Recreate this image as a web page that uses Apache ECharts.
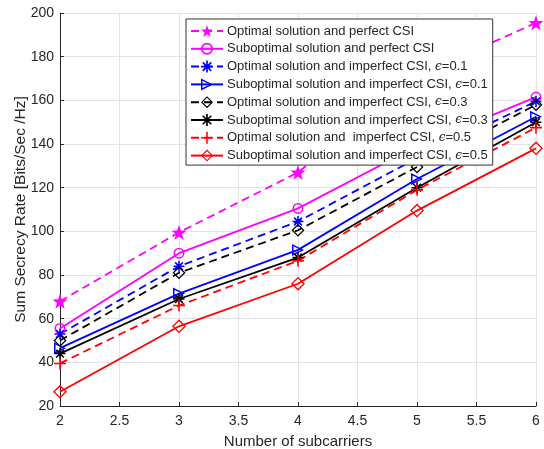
<!DOCTYPE html>
<html>
<head>
<meta charset="utf-8">
<script src="https://cdn.jsdelivr.net/npm/echarts@6/dist/echarts.min.js"></script>
<style>
  html, body { margin: 0; padding: 0; background: #fff; }
  #chart { width: 544px; height: 449px; }
</style>
</head>
<body>
<div id="chart"></div>
<script>
// Number of subcarriers on the x axis
const subcarriers = [2, 3, 4, 5, 6];

// Sum secrecy rate [Bits/Sec/Hz] per scheme
const optPerfect   = [68,   99.5, 127,   171,   195.5];
const subPerfect   = [55.5, 90,   110.5, 139,   161.5];
const optImp01     = [53,   84,   104.5, 133.5, 159.5];
const subImp01     = [46.5, 71.5, 91.5,  124,   152.5];
const optImp03     = [50,   81,   100.5, 129.5, 158];
const subImp03     = [44,   69,   88,    120,   150];
const optImp05     = [39.5, 66,   86.5,  119,   147.5];
const subImp05     = [26.5, 56.5, 76,    109.5, 138];

const xTicks = [2, 2.5, 3, 3.5, 4, 4.5, 5, 5.5, 6];
const yTicks = [20, 40, 60, 80, 100, 120, 140, 160, 180, 200];

const seriesNames = [
  'Optimal solution and perfect CSI',
  'Suboptimal solution and perfect CSI',
  'Optimal solution and imperfect CSI, {e|ϵ}=0.1',
  'Suboptimal solution and imperfect CSI, {e|ϵ}=0.1',
  'Optimal solution and imperfect CSI, {e|ϵ}=0.3',
  'Suboptimal solution and imperfect CSI, {e|ϵ}=0.3',
  'Optimal solution and  imperfect CSI, {e|ϵ}=0.5',
  'Suboptimal solution and imperfect CSI, {e|ϵ}=0.5'
];

// Marker shapes
const STAR = 'path://M0,-10 L2.35,-3.24 L9.51,-3.09 L3.8,1.24 L5.88,8.09 L0,4 L-5.88,8.09 L-3.8,1.24 L-9.51,-3.09 L-2.35,-3.24 Z';
const PLUS = 'path://M-1.3,-10 L1.3,-10 L1.3,10 L-1.3,10 Z M-10,-1.3 L10,-1.3 L10,1.3 L-10,1.3 Z';
const ASTER = 'path://M-1.4,-10 L1.4,-10 L1.4,10 L-1.4,10 Z M-10,-1.4 L10,-1.4 L10,1.4 L-10,1.4 Z ' +
  'M-6.05,-8.05 L8.05,6.05 L6.05,8.05 L-8.05,-6.05 Z M6.05,-8.05 L8.05,-6.05 L-6.05,8.05 L-8.05,6.05 Z';
// outline shapes: outer and inner contours wound in opposite directions
const TRI_RIGHT = 'path://M-9,-10 L10,0 L-9,10 Z M-6.6,-5.9 L-6.6,5.9 L5.2,0 Z';
const RING = 'path://M0,-10 A10,10 0 1,1 0,10 A10,10 0 1,1 0,-10 Z M0,-7.2 A7.2,7.2 0 1,0 0,7.2 A7.2,7.2 0 1,0 0,-7.2 Z';
const DIAMOND = 'path://M0,-10 L10,0 L0,10 L-10,0 Z M0,-7.3 L-7.3,0 L0,7.3 L7.3,0 Z';

const MAGENTA = '#ff00ff', BLUE = '#0000ff', BLACK = '#000000', RED = '#ff0000';
const DASH = [8, 5];

function mk(name, data, color, dashed, symbol, size) {
  return {
    name: name,
    type: 'line',
    data: subcarriers.map((x, i) => [x, data[i]]),
    symbol: symbol,
    symbolSize: size,
    showAllSymbol: true,
    lineStyle: { color: color, width: 1.8, type: dashed ? DASH : 'solid' },
    itemStyle: { color: color, borderWidth: 0 },
    emphasis: { disabled: true },
    animation: false
  };
}

const series = [
  mk(seriesNames[0], optPerfect, MAGENTA, true,  STAR,      15),
  mk(seriesNames[1], subPerfect, MAGENTA, false, RING,      11),
  mk(seriesNames[2], optImp01,   BLUE,    true,  ASTER,     11),
  mk(seriesNames[3], subImp01,   BLUE,    false, TRI_RIGHT, 12),
  mk(seriesNames[4], optImp03,   BLACK,   true,  DIAMOND,   13),
  mk(seriesNames[5], subImp03,   BLACK,   false, ASTER,     11),
  mk(seriesNames[6], optImp05,   RED,     true,  PLUS,      12),
  mk(seriesNames[7], subImp05,   RED,     false, DIAMOND,   14)
];

const chart = echarts.init(document.getElementById('chart'), null, { renderer: 'canvas' });
const FONT = 'Liberation Sans, Arial, Helvetica, sans-serif';
const TXT = '#262626';

chart.setOption({
  animation: false,
  backgroundColor: '#fff',
  textStyle: { fontFamily: FONT },
  grid: { left: 60, right: 8, top: 13, bottom: 43, containLabel: false, outerBoundsMode: 'none' },
  xAxis: {
    type: 'value',
    min: xTicks[0],
    max: xTicks[xTicks.length - 1],
    interval: 0.5,
    name: 'Number of subcarriers',
    nameLocation: 'middle',
    nameGap: 28,
    nameMoveOverlap: false,
    nameTextStyle: { color: TXT, fontSize: 15, fontFamily: FONT },
    axisLine: { show: true, lineStyle: { color: TXT, width: 1 } },
    axisTick: { show: true, inside: true, length: 4, lineStyle: { color: TXT } },
    axisLabel: { color: TXT, fontSize: 14, margin: 8, fontFamily: FONT },
    splitLine: { show: true, lineStyle: { color: '#e3e3e3', width: 1 } }
  },
  yAxis: {
    type: 'value',
    min: yTicks[0],
    max: yTicks[yTicks.length - 1],
    interval: 20,
    name: 'Sum Secrecy Rate [Bits/Sec /Hz]',
    nameLocation: 'middle',
    nameGap: 31,
    nameMoveOverlap: false,
    nameTextStyle: { color: TXT, fontSize: 15.5, fontFamily: FONT },
    axisLine: { show: true, lineStyle: { color: TXT, width: 1 } },
    axisTick: { show: true, inside: true, length: 4, lineStyle: { color: TXT } },
    axisLabel: { color: TXT, fontSize: 14, margin: 6, fontFamily: FONT },
    splitLine: { show: true, lineStyle: { color: '#e3e3e3', width: 1 } }
  },
  legend: {
    orient: 'vertical',
    left: 186,
    top: 19,
    itemWidth: 32,
    itemHeight: 15,
    itemGap: 4.8,
    padding: [5.5, 5, 3, 4],
    backgroundColor: '#fff',
    borderColor: '#333',
    borderWidth: 1,
    selectedMode: false,
    data: seriesNames,
    textStyle: {
      color: TXT,
      fontSize: 13,
      fontFamily: FONT,
      padding: [0, 0, 0, -1],
      rich: {
        e: { fontStyle: 'italic', fontFamily: 'DejaVu Serif, serif', fontSize: 12, color: TXT }
      }
    }
  },
  series: series
});
</script>
</body>
</html>
